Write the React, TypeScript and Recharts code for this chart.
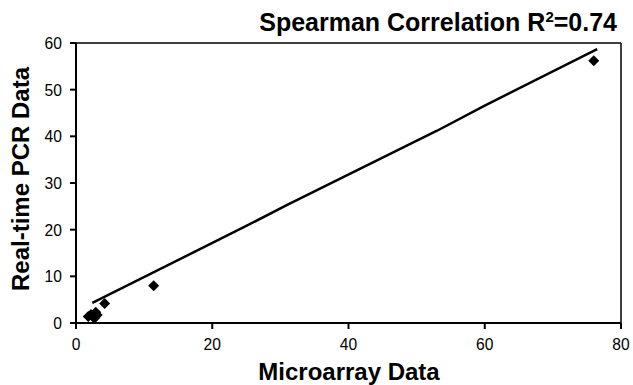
import React from "react";
import { ScatterChart, Scatter, XAxis, YAxis, ReferenceLine } from "recharts";

// measured pairs (microarray fold change vs real-time PCR fold change)
const microarray = [1.8, 2.2, 2.6, 2.9, 3.1, 2.7, 4.2, 11.4, 76];
const pcr = [1.4, 1.8, 1.2, 2.3, 1.7, 1.0, 4.2, 8.0, 56.2];

// trend line vertices as drawn
const fitX = [2.4, 25, 31, 53, 60, 76.5];
const fitY = [4.3, 20.8, 25.3, 41.2, 46.6, 58.7];

const xTicks = [0, 20, 40, 60, 80];
const yTicks = [0, 10, 20, 30, 40, 50, 60];

const points = microarray.map((x, i) => ({ x, y: pcr[i] }));
const fitLine = fitX.map((x, i) => ({ x, y: fitY[i] }));

const FONT = "'Liberation Sans', Arial, sans-serif";

const Diamond = (props: any) => {
	const { cx, cy } = props;
	const r = 5.5;
	return <polygon points={`${cx},${cy - r} ${cx + r},${cy} ${cx},${cy + r} ${cx - r},${cy}`} fill="#000" />;
};

const NoDot = () => <g />;

const XTick = (props: any) => {
	const { x, y, payload } = props;
	return (
		<text transform={`translate(${x},${y + 19}) scale(0.92,1)`} textAnchor="middle" fontSize={17} fontFamily={FONT} fill="#000">
			{payload.value}
		</text>
	);
};

const YTick = (props: any) => {
	const { x, y, payload } = props;
	return (
		<text transform={`translate(${x - 6},${y + 6}) scale(0.92,1)`} textAnchor="end" fontSize={17} fontFamily={FONT} fill="#000">
			{payload.value}
		</text>
	);
};

export default function App() {
	return (
		<div style={{ position: "absolute", left: 0, top: 0, width: 633, height: 385, background: "#fff", fontFamily: FONT }}>
			<ScatterChart width={633} height={385} margin={{ top: 43, right: 12, bottom: 32, left: 26 }}>
				<XAxis
					type="number"
					dataKey="x"
					domain={[0, 80]}
					ticks={xTicks}
					height={30}
					stroke="#000"
					strokeWidth={2}
					tickSize={6}
					tick={<XTick />}
				/>
				<YAxis
					type="number"
					dataKey="y"
					domain={[0, 60]}
					ticks={yTicks}
					width={50}
					stroke="#000"
					strokeWidth={2}
					tickSize={6}
					tick={<YTick />}
				/>
				<ReferenceLine y={60} stroke="#000" strokeWidth={1.5} />
				<ReferenceLine x={80} stroke="#000" strokeWidth={1.5} />
				<Scatter data={fitLine} line={{ stroke: "#000", strokeWidth: 2.5 }} shape={NoDot} isAnimationActive={false} />
				<Scatter data={points} shape={Diamond} isAnimationActive={false} />
			</ScatterChart>
			<div style={{ position: "absolute", right: 16, top: 8, fontSize: 25, fontWeight: "bold", whiteSpace: "nowrap" }}>
				Spearman Correlation R<sup style={{ fontSize: 15 }}>2</sup>=0.74
			</div>
			<div style={{ position: "absolute", left: 349, top: 358, transform: "translateX(-50%)", fontSize: 24, fontWeight: "bold", whiteSpace: "nowrap" }}>
				Microarray Data
			</div>
			<div style={{ position: "absolute", left: 21, top: 179, transform: "translate(-50%, -50%) rotate(-90deg)", fontSize: 24, fontWeight: "bold", whiteSpace: "nowrap" }}>
				Real-time PCR Data
			</div>
		</div>
	);
}
